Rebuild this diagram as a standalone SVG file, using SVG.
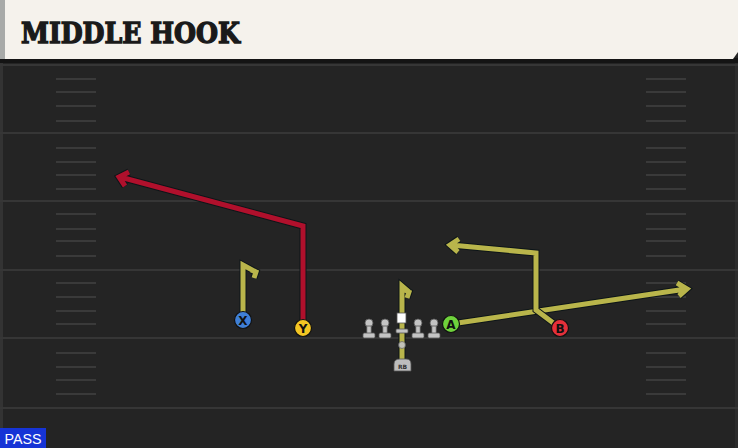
<svg xmlns="http://www.w3.org/2000/svg" width="738" height="448" viewBox="0 0 738 448">
<defs>
<style>
.yard{stroke:#363636;stroke-width:2}
.hash{stroke:#3a3a3a;stroke-width:2}
.out{fill:none;stroke:#0d1518;stroke-width:7;stroke-linejoin:miter;stroke-linecap:butt}
.red{fill:none;stroke:#b0102c;stroke-width:5;stroke-linejoin:miter}
.olive{fill:none;stroke:#b9b54b;stroke-width:5;stroke-linejoin:miter}
.lbl{font-family:"DejaVu Sans","Liberation Sans",sans-serif;font-weight:bold;font-size:12px;fill:#111;text-anchor:middle}
.man{fill:#c4c4c4;stroke:#555;stroke-width:0.8}
.title{font-family:"DejaVu Serif","Liberation Serif",serif;font-weight:bold;font-size:28px;fill:#1a1a1a;stroke:#1a1a1a;stroke-width:1.4}
</style>
<g id="hashes">
<line class="hash" x1="56" y1="0" x2="96" y2="0"/>
<line class="hash" x1="646" y1="0" x2="686" y2="0"/>
</g>
<g id="lineman">
<circle class="man" cx="0" cy="0" r="4"/>
<rect class="man" x="-2.2" y="3" width="4.4" height="8"/>
<rect class="man" x="-6" y="10" width="12" height="5" rx="1.5"/>
</g>
</defs>
<rect x="0" y="0" width="738" height="448" fill="#242424"/>
<rect x="0" y="62" width="3" height="386" fill="#333"/>
<rect x="735" y="62" width="3" height="386" fill="#2c2c2c"/>
<g id="field">
<line class="yard" x1="0" y1="65" x2="738" y2="65"/>
<line class="yard" x1="0" y1="133" x2="738" y2="133"/>
<line class="yard" x1="0" y1="201" x2="738" y2="201"/>
<line class="yard" x1="0" y1="270" x2="738" y2="270"/>
<line class="yard" x1="0" y1="338" x2="738" y2="338"/>
<line class="yard" x1="0" y1="408" x2="738" y2="408"/>
<use href="#hashes" y="79"/><use href="#hashes" y="92"/><use href="#hashes" y="106"/><use href="#hashes" y="121"/>
<use href="#hashes" y="148"/><use href="#hashes" y="162"/><use href="#hashes" y="175"/><use href="#hashes" y="189"/>
<use href="#hashes" y="214"/><use href="#hashes" y="229"/><use href="#hashes" y="241"/><use href="#hashes" y="256"/>
<use href="#hashes" y="283"/><use href="#hashes" y="297"/><use href="#hashes" y="311"/><use href="#hashes" y="324"/>
<use href="#hashes" y="353"/><use href="#hashes" y="367"/><use href="#hashes" y="380"/><use href="#hashes" y="394"/>
</g>
<g id="header">
<rect x="0" y="58" width="738" height="5" fill="#141414"/>
<path d="M0,0 H738 V52 L733,59 H0 Z" fill="#f5f2ec"/>
<rect x="0" y="0" width="5" height="59" fill="#a8aaa8"/>
<text class="title" x="21" y="42.5" textLength="219" lengthAdjust="spacingAndGlyphs">MIDDLE HOOK</text>
</g>
<g id="connectors">
<path class="out" d="M303,328 V226 L120,177 M129,172 L119,177 L125,186"/>
<path class="red" d="M303,328 V226 L120,177 M129,172 L119,177 L125,186"/>
<path class="out" d="M243,320 V265 L256,272 M251,270 L256,272 L254,278"/>
<path class="olive" d="M243,320 V265 L256,272 M251,270 L256,272 L254,278"/>
<path class="out" d="M402,362 V286 L409,292 M405,290 L409,292 L407,298"/>
<path class="olive" d="M402,362 V286 L409,292 M405,290 L409,292 L407,298"/>
<path class="out" d="M451,324 L686,289 M677,283 L687,289 L679,296"/>
<path class="olive" d="M451,324 L686,289 M677,283 L687,289 L679,296"/>
<path class="out" d="M560,328 L536,310 V253 L451,245 M459,239 L450,245 L458,252"/>
<path class="olive" d="M560,328 L536,310 V253 L451,245 M459,239 L450,245 L458,252"/>
</g>
<g id="oline">
<use href="#lineman" x="369" y="323"/>
<use href="#lineman" x="385" y="323"/>
<use href="#lineman" x="418" y="323"/>
<use href="#lineman" x="434" y="323"/>
</g>
<g id="center">
<rect x="396" y="329" width="12" height="4" rx="1" fill="#c4c4c4" stroke="#555" stroke-width="0.8"/>
<rect x="397" y="313" width="9" height="10" fill="#fff" stroke="#555" stroke-width="0.8"/>
</g>
<g id="qb"><circle cx="402" cy="345" r="3.5" fill="#c4c4c4" stroke="#666" stroke-width="0.8" opacity="0.9"/></g>
<g id="rb">
<path d="M394,371 V364 Q394,359 400,359 H406 Q411,359 411,364 V371 Z" fill="#bdbdbd" stroke="#555" stroke-width="0.8"/>
<text x="402.5" y="369" font-family="DejaVu Sans,sans-serif" font-weight="bold" font-size="6" fill="#333" text-anchor="middle">RB</text>
</g>
<g id="X"><circle cx="243" cy="320" r="8.5" fill="#3f7fd6" stroke="#111" stroke-width="1.2"/><text class="lbl" x="243" y="324.5">X</text></g>
<g id="Y"><circle cx="303" cy="328" r="8.5" fill="#f3c623" stroke="#111" stroke-width="1.2"/><text class="lbl" x="303" y="332.5">Y</text></g>
<g id="A"><circle cx="451" cy="324" r="8.5" fill="#6fd23c" stroke="#111" stroke-width="1.2"/><text class="lbl" x="451" y="328.5">A</text></g>
<g id="B"><circle cx="560" cy="328" r="8.5" fill="#e5303a" stroke="#111" stroke-width="1.2"/><text class="lbl" x="560" y="332.5">B</text></g>
<g id="pass">
<rect x="0" y="428" width="46" height="20" fill="#1634d6"/>
<text x="23" y="444" font-family="Liberation Sans,Arial,sans-serif" font-size="15" fill="#fff" text-anchor="middle" textLength="37" lengthAdjust="spacingAndGlyphs">PASS</text>
</g>
</svg>
